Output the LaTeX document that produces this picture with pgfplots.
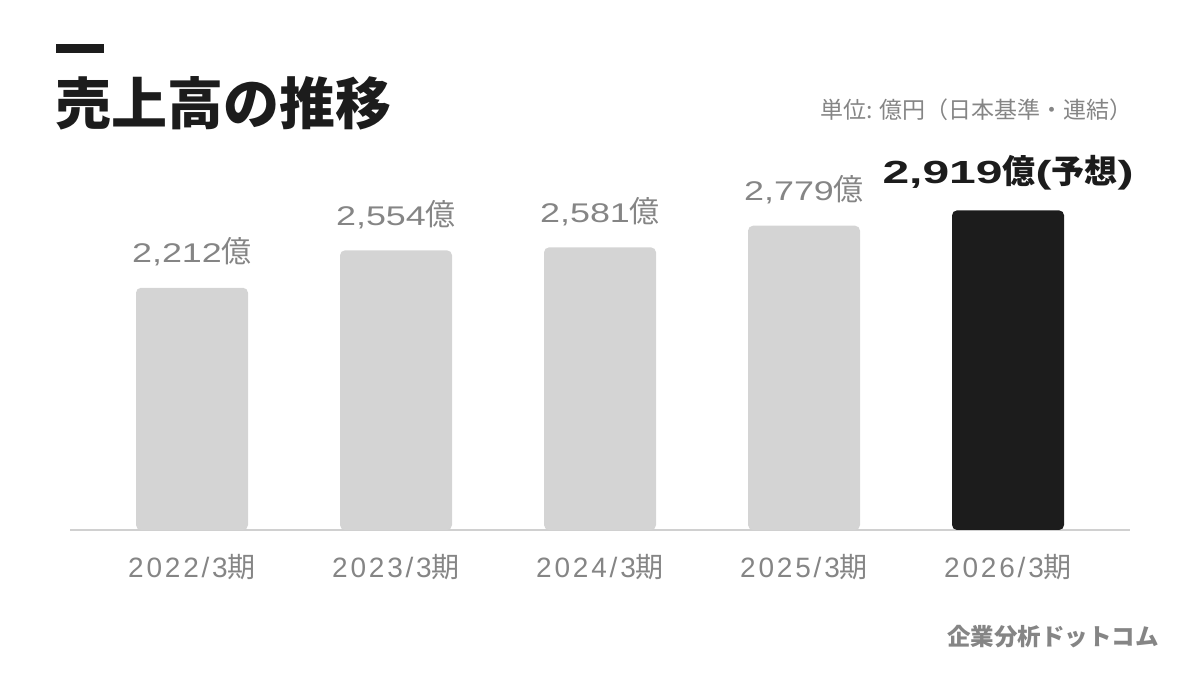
\documentclass[border=0pt]{standalone}
\usepackage{fontspec}
\setmainfont{Liberation Sans}
\newfontfamily\jp{Noto Sans CJK JP}
\newfontfamily\wide[FakeStretch=1.5]{Liberation Sans}
\newfontfamily\midwide[FakeStretch=1.33]{Liberation Sans}
\usepackage{pgfplots}
\pgfplotsset{compat=1.18}
\definecolor{bargray}{HTML}{D4D4D4}
\definecolor{bardark}{HTML}{1C1C1C}
\definecolor{txtgray}{HTML}{858585}
\definecolor{linegray}{HTML}{D0D0D0}
\begin{document}
\begin{tikzpicture}[x=1pt,y=1pt]
\path (0,0) rectangle (1200,675);
\fill[bardark] (56,621.7) rectangle (104,630.7);
\node[anchor=west, inner sep=0, text=bardark, font=\jp\bfseries\fontsize{56}{60}\selectfont] at (55,572) {売上高の推移};
\node[anchor=east, inner sep=0, text=txtgray, font=\jp\fontsize{23}{26}\selectfont] at (1133,565) {単位: 億円（日本基準・連結）};
\node[anchor=east, inner sep=0, text=txtgray, font=\jp\bfseries\fontsize{23.5}{26}\selectfont] at (1159,38) {企業分析ドットコム};
\begin{axis}[
    at={(192pt,145pt)}, anchor=origin,
    scale only axis, width=1060pt, height=383.25pt,
    xmin=-0.598, xmax=4.598, ymin=0, ymax=3500,
    axis x line=bottom, axis y line=none,
    x axis line style={draw=linegray, line width=1.5pt, -},
    xtick={0,1,2,3,4}, xtick style={draw=none},
    xticklabels={2022/3{\jp 期}, 2023/3{\jp 期}, 2024/3{\jp 期}, 2025/3{\jp 期}, 2026/3{\jp 期}},
    xticklabel style={anchor=base, yshift=-43pt, text=txtgray,
        font=\addfontfeature{LetterSpace=10}\fontsize{28}{30}\selectfont},
    ybar, bar width=112pt, bar shift=0pt,
    /pgf/number format/.cd, 1000 sep={,}, assume math mode=true, /pgfplots/.cd,
    nodes near coords style={anchor=base, inner sep=0},
]
\addplot[fill=bargray, draw=none, rounded corners=5pt,
    nodes near coords={\pgfmathprintnumber{\pgfplotspointmeta}{\jp\fontsize{30}{32}\selectfont 億}},
    every node near coord/.append style={text=txtgray, yshift=25pt,
        font=\midwide\fontsize{27}{30}\selectfont}]
    coordinates {(0,2212) (1,2554) (2,2581) (3,2779)};
\addplot[fill=bardark, draw=none, rounded corners=5pt,
    nodes near coords={\pgfmathprintnumber{\pgfplotspointmeta}{\jp\bfseries\fontsize{33}{36}\selectfont 億}{\bfseries\fontsize{32}{36}\selectfont(}{\jp\bfseries\fontsize{33}{36}\selectfont 予想}{\bfseries\fontsize{32}{36}\selectfont)}},
    every node near coord/.append style={text=bardark, yshift=27pt,
        font=\wide\bfseries\fontsize{32}{36}\selectfont}]
    coordinates {(4,2919)};
\end{axis}
\end{tikzpicture}
\end{document}
